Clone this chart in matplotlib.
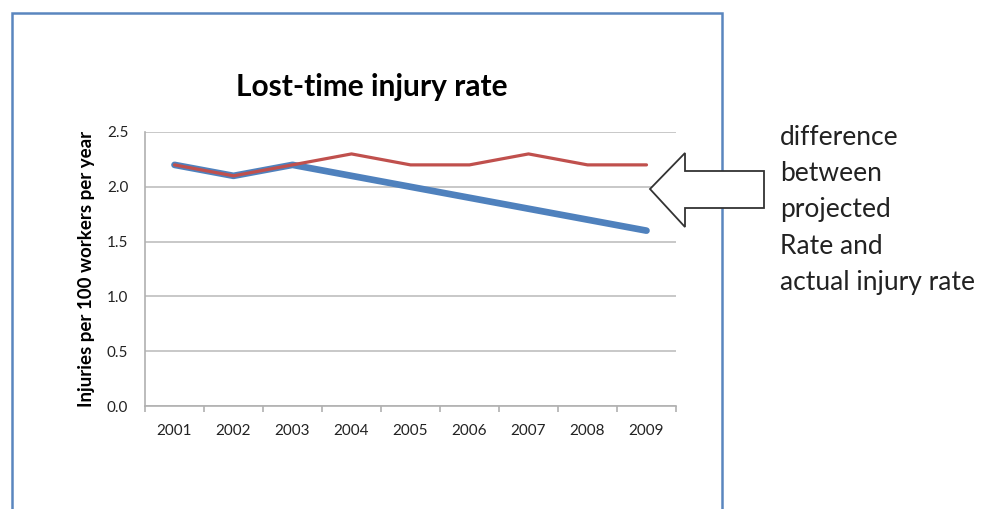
import matplotlib
matplotlib.use("Agg")
from matplotlib import pyplot as plt
from matplotlib.patches import Rectangle, Polygon

years = ["2001", "2002", "2003", "2004", "2005", "2006", "2007", "2008", "2009"]
actual = [2.2, 2.1, 2.2, 2.3, 2.2, 2.2, 2.3, 2.2, 2.2]
projected = [2.2, 2.1, 2.2, 2.1, 2.0, 1.9, 1.8, 1.7, 1.6]
yticks = [0.0, 0.5, 1.0, 1.5, 2.0, 2.5]

plt.rcParams['font.family'] = ['Lato', 'DejaVu Sans']

W, H = 995, 509
fig = plt.figure(figsize=(W / 100, H / 100), dpi=100)

def fx(x):
    return x / W

def fy(y):
    return 1 - y / H

# outer blue frame of the embedded chart
fig.patches.append(Rectangle((fx(12), fy(540)), fx(722) - fx(12), fy(13) - fy(540),
                             transform=fig.transFigure, fill=False,
                             edgecolor="#5a86bf", linewidth=1.8))

ax = fig.add_axes([fx(145), fy(406), fx(676) - fx(145), fy(132) - fy(406)])
x = list(range(len(years)))
ax.plot(x, projected, color="#4f81bd", linewidth=4.8, solid_capstyle="round", zorder=3)
ax.plot(x, actual, color="#c0504d", linewidth=2.3, solid_capstyle="round", zorder=4)

ax.set_xlim(-0.5, len(years) - 0.5)
ax.set_ylim(0, 2.5)
ax.set_yticks(yticks)
ax.set_yticklabels([f"{v:.1f}" for v in yticks])
ax.set_xticks(x)
ax.set_xticklabels(years)
ax.set_xticks([i - 0.5 for i in range(len(years) + 1)], minor=True)
ax.tick_params(axis="x", which="major", length=0, pad=13, labelsize=11, colors="#222222")
ax.tick_params(axis="x", which="minor", length=4, width=1.2, color="#b0b0b0")
ax.tick_params(axis="y", length=0, pad=12, labelsize=11, colors="#222222")
ax.grid(axis="y", color="#c8c8c8", linewidth=1.4)
ax.set_axisbelow(True)
for s in ["top", "right"]:
    ax.spines[s].set_visible(False)
for s in ["left", "bottom"]:
    ax.spines[s].set_color("#b0b0b0")
    ax.spines[s].set_linewidth(1.2)
ax.set_ylabel("Injuries per 100 workers per year", fontsize=13.5, fontweight="bold")
ax.yaxis.set_label_coords((95 - 145) / 531, 0.5)

fig.text(fx(372), fy(87), "Lost-time injury rate", fontsize=21.5, fontweight="bold",
         ha="center", va="center")

# block arrow pointing at the gap between the lines
arrow = Polygon([(fx(650), fy(189)), (fx(685), fy(153)), (fx(685), fy(171)),
                 (fx(764), fy(171)), (fx(764), fy(208)), (fx(685), fy(208)),
                 (fx(685), fy(227))], closed=True, transform=fig.transFigure,
                facecolor="white", edgecolor="#333333", linewidth=1.3, zorder=10)
fig.patches.append(arrow)

fig.text(fx(780), fy(125), "difference\nbetween\nprojected\nRate and\nactual injury rate",
         fontsize=19, ha="left", va="top", linespacing=1.56, color="#222222")

fig.savefig("out.png", dpi=100)
